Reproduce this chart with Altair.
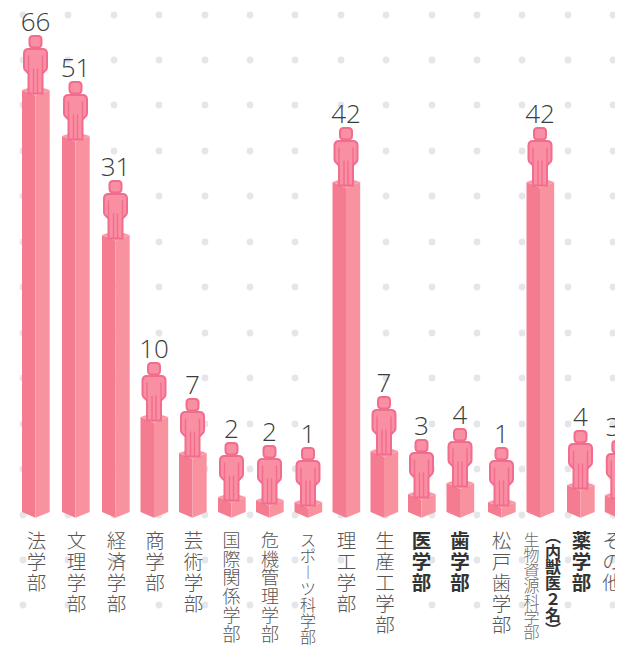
import altair as alt
import pandas as pd

counts = [66, 51, 31, 10, 7, 2, 2, 1, 42, 7, 3, 4, 1, 42, 4, 3]
# height of each column (left corner above the floor)
levels = [422, 376, 277, 95, 59, 15, 12, 10, 330, 61, 18, 29, 10, 330, 27, 17]
columns = [35.5, 75.5, 115.5, 154, 192.5, 231.5, 269.5, 308, 346, 384, 421.5, 460, 501.5, 540, 580.5, 618.3]
value_x = columns[:-1] + [613]

names_regular = ["法学部", "文理学部", "経済学部", "商学部", "芸術学部", "理工学部", "生産工学部", "松戸歯学部", "その他"]
names_regular_x = [36.5, 76.5, 116.5, 155, 193.5, 346.5, 385, 501.5, 612]
names_medium = ["国際関係学部", "危機管理学部"]
names_medium_x = [231.5, 270]
names_small = ["スポ\uFE31ツ科学部"]
names_small_x = [308]
names_bold = ["医学部", "歯学部", "薬学部"]
names_bold_x = [421.5, 460, 581.5]
names_vet = ["生物資源科学部"]
names_vet_x = [531.5]
names_note = ["\uFE35内獣医２名\uFE36"]
names_note_x = [553]

dots_x = [23, 68, 114, 159, 205, 250, 295, 341, 386, 432, 477, 522, 568, 613]
dots_y = [15, 60, 105, 151, 196, 242, 287, 333, 378, 424, 469, 515, 560, 605]

W, H = 607, 637
FLOOR = 512  # page y of the left corner of the column feet
x_scale = alt.Scale(domain=[8, 8 + W], range=[0, W])
y_scale = alt.Scale(domain=[FLOOR - (8 + H), FLOOR - 8], range=[H, 0])

HALF_L, HALF_R, BACK, FRONT = 13.5, 14.2, 4.5, 5.8

left_rows, right_rows, top_rows = [], [], []
for i, (c, lv) in enumerate(zip(columns, levels)):
    left_rows += [
        {"i": i, "x": c - HALF_L, "y": lv, "y2": 0},
        {"i": i, "x": c, "y": lv - FRONT, "y2": -FRONT},
    ]
    right_rows += [
        {"i": i, "x": c, "y": lv - FRONT, "y2": -FRONT},
        {"i": i, "x": c + HALF_R, "y": lv, "y2": 0},
    ]
    top_rows += [
        {"i": i, "x": c - HALF_L, "y": lv, "y2": lv},
        {"i": i, "x": c, "y": lv + BACK, "y2": lv - FRONT},
        {"i": i, "x": c + HALF_R, "y": lv, "y2": lv},
    ]


def face(rows, color):
    return alt.Chart(pd.DataFrame(rows)).mark_area(color=color, interpolate="linear").encode(
        x=alt.X("x:Q", scale=x_scale, axis=None),
        y=alt.Y("y:Q", scale=y_scale, axis=None, stack=None),
        y2="y2:Q",
        detail="i:N",
    )


grid = pd.DataFrame([{"x": a, "y": FLOOR - b} for a in dots_x for b in dots_y])
dots = alt.Chart(grid).mark_circle(size=46, color="#e5e6e9", opacity=1).encode(
    x=alt.X("x:Q", scale=x_scale, axis=None),
    y=alt.Y("y:Q", scale=y_scale, axis=None),
)

people = pd.DataFrame({"x": columns, "y": [lv + 25.5 for lv in levels]})
BODY = (
    "M-2.5,-28.5 L2.5,-28.5 Q6,-28.5 6,-25 L6,-21 Q6,-17 2.5,-17 L-2.5,-17 Q-6,-17 -6,-21 L-6,-25 Q-6,-28.5 -2.5,-28.5 Z "
    "M-7,-15.5 L7,-15.5 Q11.5,-15.5 11.5,-11 L11.5,3 Q11.5,5 9.5,6.5 L7,9 L7,29 L-7,29 L-7,9 L-9.5,6.5 Q-11.5,5 -11.5,3 L-11.5,-11 Q-11.5,-15.5 -7,-15.5 Z"
)
LINES = "M-7,-9 L-7,9 M7,-9 L7,9 M-2,4 L-2,29 M2,4 L2,29"
person_enc = dict(
    x=alt.X("x:Q", scale=x_scale, axis=None),
    y=alt.Y("y:Q", scale=y_scale, axis=None),
)
person = alt.Chart(people).mark_point(
    shape=BODY, size=4, filled=True, fill="#f98fa2", stroke="#f26c8e", strokeWidth=2, opacity=1
).encode(**person_enc)
person_lines = alt.Chart(people).mark_point(
    shape=LINES, size=4, filled=False, fill="transparent", stroke="#f26c8e", strokeWidth=1.4, opacity=1
).encode(**person_enc)

value_df = pd.DataFrame({"x": value_x, "y": [lv + 59 for lv in levels], "t": [str(c) for c in counts]})
values = alt.Chart(value_df).mark_text(
    font="Open Sans", fontWeight=300, fontSize=26, color="#3c3c3c", baseline="alphabetic", align="center"
).encode(
    x=alt.X("x:Q", scale=x_scale, axis=None),
    y=alt.Y("y:Q", scale=y_scale, axis=None),
    text="t:N",
)

LABEL_TOP = FLOOR - 533


def labels(names, xs, size, line, color="#555555", weight=300, lift=0):
    df = pd.DataFrame({"x": xs, "y": [LABEL_TOP + lift] * len(xs), "t": ["\n".join(n) for n in names]})
    return alt.Chart(df).mark_text(
        font="Noto Sans CJK JP", fontWeight=weight, fontSize=size, lineHeight=line,
        lineBreak="\n", color=color, baseline="top", align="center",
    ).encode(
        x=alt.X("x:Q", scale=x_scale, axis=None),
        y=alt.Y("y:Q", scale=y_scale, axis=None),
        text="t:N",
    )


chart = alt.layer(
    dots,
    face(left_rows, "#f47b90"),
    face(right_rows, "#f9929f"),
    face(top_rows, "#fa98a7"),
    person,
    person_lines,
    values,
    labels(names_regular, names_regular_x, 19.5, 20.9),
    labels(names_medium, names_medium_x, 18, 18.7),
    labels(names_small, names_small_x, 16, 16.2),
    labels(names_vet, names_vet_x, 16, 15.4, color="#6a6a6a"),
    labels(names_bold, names_bold_x, 19.5, 20.9, color="#333333", weight=700),
    labels(names_note, names_note_x, 16, 15.7, color="#333333", weight=700, lift=4),
).properties(
    width=W, height=H, padding=0, background="white", autosize=alt.AutoSizeParams(type="none"),
).configure_view(stroke=None)

chart.save("out.html", embed_options={"renderer": "svg", "actions": False})
